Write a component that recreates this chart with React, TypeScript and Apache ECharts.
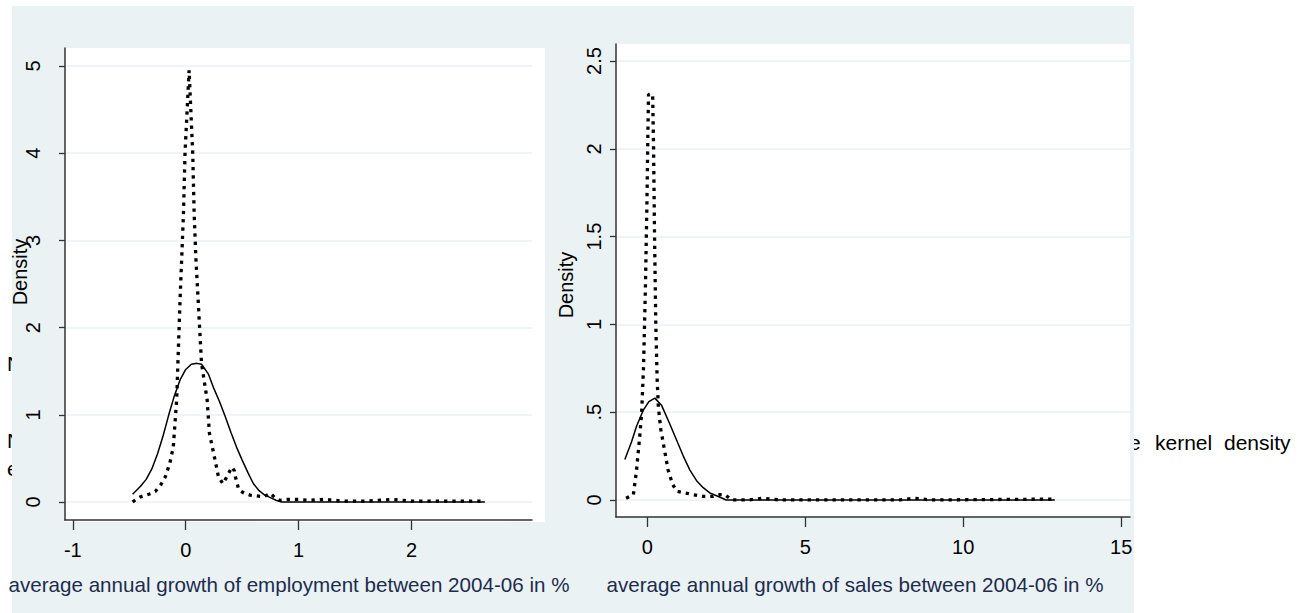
import React, { useEffect, useRef } from "react";
import * as echarts from "echarts";

// Tick values
const empTicksX = [-1, 0, 1, 2];
const empTicksY = [0, 1, 2, 3, 4, 5];
const salesTicksX = [0, 5, 10, 15];
const salesTicksY = [0, 0.5, 1, 1.5, 2, 2.5];

// Left panel: employment growth — kernel density (solid) and second density (dotted)
const empSolid: [number, number][] = [
  [-0.47, 0.09], [-0.4, 0.18], [-0.35, 0.26], [-0.3, 0.38], [-0.25, 0.55], [-0.2, 0.76],
  [-0.15, 1.0], [-0.1, 1.22], [-0.05, 1.4], [0.0, 1.52], [0.05, 1.58], [0.1, 1.59],
  [0.14, 1.58], [0.2, 1.47], [0.25, 1.3], [0.3, 1.15], [0.35, 0.98], [0.4, 0.8],
  [0.45, 0.63], [0.5, 0.48], [0.55, 0.34], [0.6, 0.21], [0.65, 0.13], [0.7, 0.08],
  [0.75, 0.05], [0.8, 0.02], [0.85, 0.0], [1.2, 0.0], [1.6, 0.0], [2.0, 0.0], [2.4, 0.0], [2.65, 0.0],
];
const empDotted: [number, number][] = [
  [-0.47, 0.0], [-0.43, 0.04], [-0.4, 0.06], [-0.35, 0.08], [-0.3, 0.1], [-0.27, 0.12],
  [-0.22, 0.2], [-0.18, 0.29], [-0.14, 0.45], [-0.11, 0.63], [-0.08, 1.17], [-0.06, 1.94],
  [-0.05, 2.32], [-0.02, 3.3], [-0.006, 4.0], [0.03, 4.95], [0.062, 4.0], [0.075, 3.3],
  [0.09, 2.8], [0.11, 2.32], [0.14, 1.59], [0.19, 1.17], [0.21, 0.79], [0.26, 0.48],
  [0.29, 0.29], [0.33, 0.21], [0.36, 0.28], [0.38, 0.33], [0.41, 0.4], [0.43, 0.36],
  [0.44, 0.29], [0.47, 0.14], [0.52, 0.1], [0.57, 0.08], [0.63, 0.07], [0.69, 0.06],
  [0.75, 0.1], [0.79, 0.05], [0.83, 0.02], [0.9, 0.03], [1.0, 0.03], [1.1, 0.02],
  [1.23, 0.03], [1.4, 0.01], [1.6, 0.01], [1.82, 0.03], [2.0, 0.01], [2.2, 0.01],
  [2.4, 0.01], [2.65, 0.01],
];

// Right panel: sales growth
const salesSolid: [number, number][] = [
  [-0.71, 0.23], [-0.5, 0.33], [-0.34, 0.42], [-0.13, 0.51], [0.05, 0.56], [0.24, 0.58],
  [0.45, 0.54], [0.72, 0.43], [0.93, 0.34], [1.14, 0.25], [1.35, 0.17], [1.56, 0.11],
  [1.77, 0.07], [1.98, 0.04], [2.25, 0.02], [2.5, 0.0], [5, 0.0], [10, 0.0], [12.9, 0.0],
];
const salesDotted: [number, number][] = [
  [-0.67, 0.01], [-0.44, 0.03], [-0.34, 0.17], [-0.23, 0.38], [-0.18, 0.49], [-0.12, 0.75],
  [-0.06, 1.2], [-0.01, 1.7], [0.02, 2.1], [0.04, 2.31], [0.17, 2.31], [0.2, 2.0],
  [0.23, 1.5], [0.27, 1.0], [0.31, 0.7], [0.35, 0.53], [0.43, 0.4], [0.51, 0.32],
  [0.66, 0.17], [0.8, 0.09], [0.93, 0.05], [1.2, 0.04], [1.46, 0.03], [1.77, 0.02],
  [2.09, 0.02], [2.3, 0.03], [2.46, 0.03], [2.67, 0.0], [3.2, 0.0], [3.67, 0.01],
  [4.2, 0.0], [8.0, 0.0], [8.42, 0.01], [9.0, 0.0], [12.9, 0.005],
];

const xTitleLeft = "average annual growth of employment between 2004-06 in %";
const xTitleRight = "average annual growth of sales between 2004-06 in %";
const yTitle = "Density";

const FONT = "'Liberation Sans', Arial, sans-serif";
const PANEL = "#eaf2f3";
const GRIDLINE = "#eaf2f3";
const AXIS = "#333333";
const TITLE_COLOR = "#1e2c4e";

const fmtY = (v: number) => (v > 0 && v < 1 ? String(v).replace(/^0/, "") : String(v));

function makeX(gridIndex: number, min: number, max: number, ticks: number[]) {
  return {
    type: "value",
    gridIndex,
    min,
    max,
    axisLine: { show: true, onZero: false, lineStyle: { color: AXIS, width: 1.5 } },
    axisTick: { show: true, customValues: ticks, length: 10, inside: false, lineStyle: { color: AXIS, width: 1.3 } },
    axisLabel: { customValues: ticks, margin: 20, color: "#000", fontSize: 20, fontFamily: FONT },
    splitLine: { show: false },
  };
}

function makeY(gridIndex: number, min: number, max: number, ticks: number[], margin: number) {
  return {
    type: "value",
    gridIndex,
    min,
    max,
    axisLine: { show: true, onZero: false, lineStyle: { color: AXIS, width: 1.5 } },
    axisTick: { show: true, customValues: ticks, length: 6, lineStyle: { color: AXIS, width: 1.3 } },
    axisLabel: {
      customValues: ticks,
      rotate: 90,
      margin,
      color: "#000",
      fontSize: 20,
      fontFamily: FONT,
      formatter: (v: number) => fmtY(v),
    },
    splitLine: { show: true, lineStyle: { color: GRIDLINE, width: 1.5 } },
  };
}

export default function App() {
  const ref = useRef<HTMLDivElement>(null);
  useEffect(() => {
    if (!ref.current) return;
    const chart = echarts.init(ref.current, undefined, { renderer: "svg" });
    const txt = (text: string, x: number, y: number, extra: any = {}) => ({
      type: "text",
      x,
      y,
      style: {
        text,
        fill: "#000",
        fontSize: 21,
        fontFamily: FONT,
        verticalAlign: "middle",
        align: "left",
        ...extra,
      },
    });
    chart.setOption({
      animation: false,
      backgroundColor: "#ffffff",
      grid: [
        { left: 65, top: 48, width: 467, height: 472, show: false },
        { left: 616, top: 44, width: 514, height: 473, show: false },
      ],
      xAxis: [makeX(0, -1.069, 3.067, empTicksX), makeX(1, -0.99, 15.28, salesTicksX)],
      yAxis: [makeY(0, -0.206, 5.206, empTicksY, 22), makeY(1, -0.097, 2.597, salesTicksY, 12)],
      series: [
        {
          type: "line", xAxisIndex: 0, yAxisIndex: 0, data: empSolid, showSymbol: false,
          lineStyle: { color: "#000", width: 1.5 }, z: 3,
        },
        {
          type: "line", xAxisIndex: 0, yAxisIndex: 0, data: empDotted, showSymbol: false,
          lineStyle: { color: "#000", width: 3.3, type: [3.3, 5], cap: "butt" }, z: 4,
        },
        {
          type: "line", xAxisIndex: 1, yAxisIndex: 1, data: salesSolid, showSymbol: false,
          lineStyle: { color: "#000", width: 1.5 }, z: 3,
        },
        {
          type: "line", xAxisIndex: 1, yAxisIndex: 1, data: salesDotted, showSymbol: false,
          lineStyle: { color: "#000", width: 3.3, type: [3.3, 5], cap: "butt" }, z: 4,
        },
      ],
      graphic: [
        // remnants of overlapped text, partially hidden behind the panel
        { ...txt("N", 7, 363), z: -3 },
        { ...txt("N", 7, 440), z: -3 },
        { ...txt("e", 7, 468), z: -3 },
        { ...txt("e", 1129, 442), z: -3 },
        { ...txt("kernel", 1155, 442), z: -3 },
        { ...txt("density", 1224, 442), z: -3 },
        // graph region background
        { type: "rect", shape: { x: 12, y: 6, width: 1122, height: 607 }, style: { fill: PANEL }, z: -2 },
        // plot regions
        { type: "rect", shape: { x: 65, y: 48, width: 480, height: 474 }, style: { fill: "#fff" }, z: -1 },
        { type: "rect", shape: { x: 616, y: 44, width: 514, height: 473 }, style: { fill: "#fff" }, z: -1 },
        // axis titles
        {
          type: "text", x: 20, y: 272, rotation: Math.PI / 2,
          style: { text: yTitle, fill: "#000", fontSize: 20, fontFamily: FONT, align: "center", verticalAlign: "middle" },
          z: 5,
        },
        {
          type: "text", x: 566, y: 285, rotation: Math.PI / 2,
          style: { text: yTitle, fill: "#000", fontSize: 20, fontFamily: FONT, align: "center", verticalAlign: "middle" },
          z: 5,
        },
        {
          type: "text", x: 289, y: 584,
          style: { text: xTitleLeft, fill: TITLE_COLOR, fontSize: 20.6, fontFamily: FONT, align: "center", verticalAlign: "middle" },
          z: 5,
        },
        {
          type: "text", x: 855, y: 584,
          style: { text: xTitleRight, fill: TITLE_COLOR, fontSize: 20.6, fontFamily: FONT, align: "center", verticalAlign: "middle" },
          z: 5,
        },
      ],
    });
    return () => chart.dispose();
  }, []);
  return (
    <div
      ref={ref}
      style={{ position: "absolute", left: 0, top: 0, width: 1307, height: 613 }}
    />
  );
}
